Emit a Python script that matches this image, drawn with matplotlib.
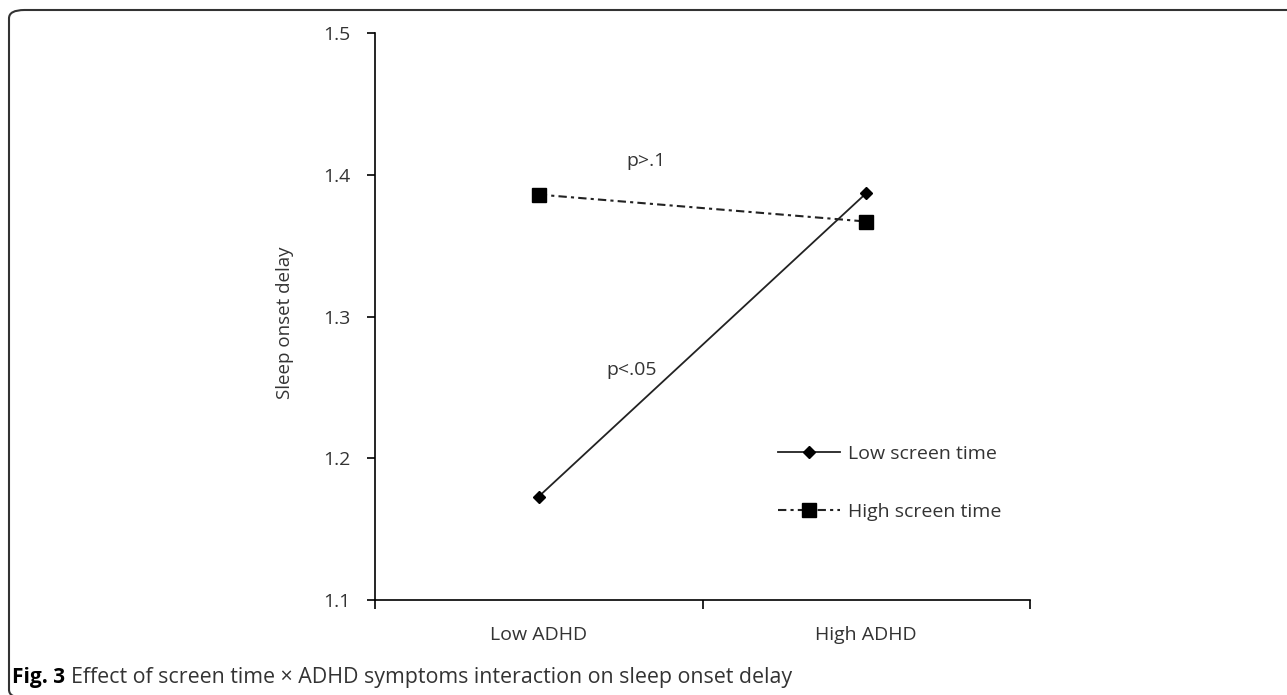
import numpy as np
import matplotlib.pyplot as plt
from matplotlib.patches import FancyBboxPatch

# data
groups = ['Low ADHD', 'High ADHD']
low_screen = [1.173, 1.387]
high_screen = [1.386, 1.367]
series_names = ['Low screen time', 'High screen time']
y_ticks = [1.1, 1.2, 1.3, 1.4, 1.5]

plt.rcParams['font.family'] = ['Open Sans', 'DejaVu Sans']
txt = '#333333'

fig = plt.figure(figsize=(12.87, 6.95), dpi=100)
ax = fig.add_axes([375/1287, 1 - 600/695, 655/1287, 567/695])

x = np.arange(len(groups))
ax.plot(x, low_screen, color='#222222', lw=1.3, marker='D', ms=6,
        mfc='black', mec='black', label=series_names[0])
ax.plot(x, high_screen, color='#222222', lw=1.5, ls=(0, (4, 2, 1.5, 2)),
        marker='s', ms=9.5, mfc='black', mec='black', label=series_names[1])

ax.set_xlim(-0.5, 1.5)
ax.set_ylim(1.1, 1.5)
ax.set_yticks(y_ticks)
ax.set_yticklabels([f'{v:.1f}' for v in y_ticks])
ax.set_xticks([-0.5, 0.5, 1.5])
ax.set_xticklabels([])
ax.set_xticks(x, minor=True)
ax.set_xticklabels(groups, minor=True)
ax.tick_params(axis='x', which='major', direction='out', length=6.5, width=1.2)
ax.tick_params(axis='x', which='minor', length=0, pad=19, labelsize=14, labelcolor=txt)
ax.tick_params(axis='y', direction='out', length=6, width=1.2, pad=11.5,
               labelsize=14, labelcolor=txt)
for s in ['top', 'right']:
    ax.spines[s].set_visible(False)
for s in ['left', 'bottom']:
    ax.spines[s].set_linewidth(1.2)

ax.set_ylabel('Sleep onset delay', fontsize=13.5, color=txt, va='center')
ax.yaxis.set_label_coords(-0.137, 0.489)

ax.text(0.3275, 1.410, 'p>.1', fontsize=14, color=txt, ha='center', va='center')
ax.text(0.285, 1.262, 'p<.05', fontsize=14, color=txt, ha='center', va='center')

ax.legend(loc='center left', bbox_to_anchor=(768/1287, 1 - 483/695),
          bbox_transform=fig.transFigure, frameon=False, fontsize=14,
          handlelength=3.2, handletextpad=0.4, labelspacing=2.05,
          borderpad=0, labelcolor=txt)

# caption: bold figure number, then the plain text right after it
fig_no = fig.text(12/1287, 1 - 683/695, 'Fig. 3', fontsize=15, fontweight='bold',
                  color='black', va='baseline')
ax.annotate('Effect of screen time \u00d7 ADHD symptoms interaction on sleep onset delay',
            xy=(1, 0), xycoords=fig_no, xytext=(4, 0), textcoords='offset points',
            fontsize=15.4, color=txt, va='bottom', annotation_clip=False)

# rounded frame around the figure
frame = FancyBboxPatch((9/1287, -3/695), 1300/1287, 688/695,
                       boxstyle='round,pad=0,rounding_size=0.012',
                       transform=fig.transFigure, fill=False,
                       ec='#333333', lw=1.5, clip_on=False)
fig.patches.append(frame)

fig.savefig('out.png', dpi=100)
